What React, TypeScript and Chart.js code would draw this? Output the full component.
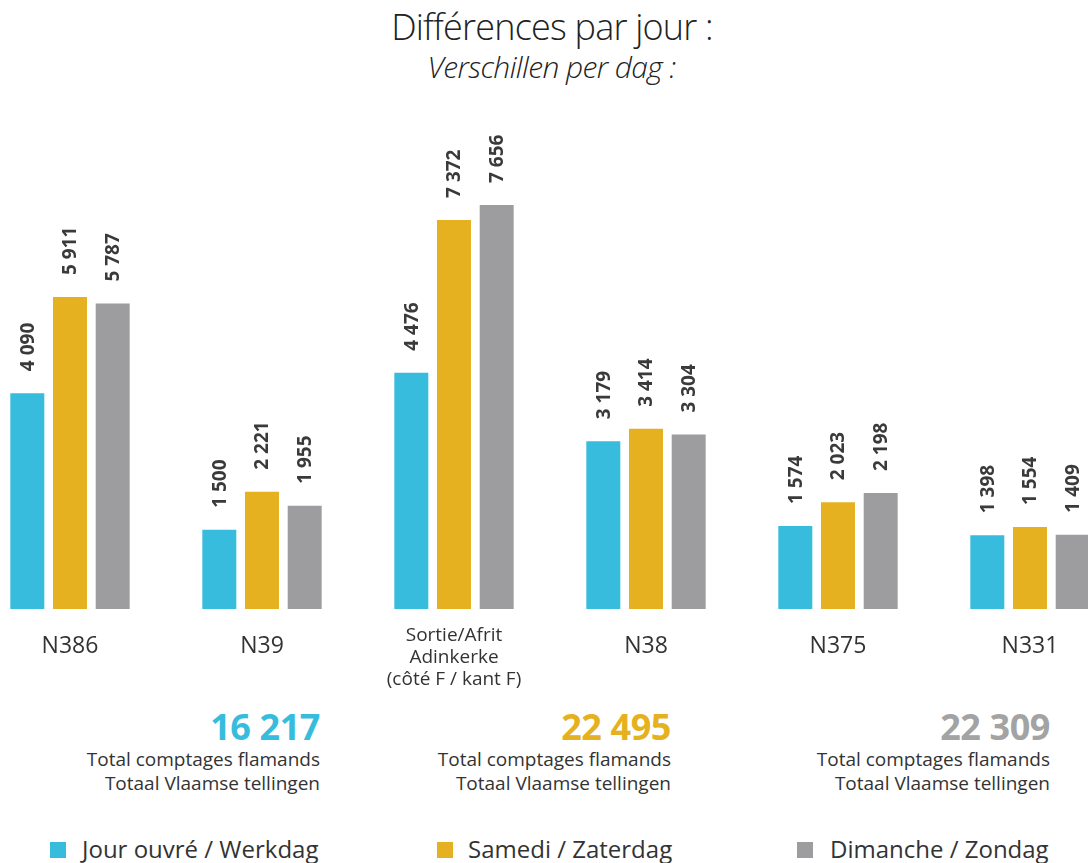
import React, { useEffect, useRef } from "react";
import Chart from "chart.js/auto";

const categories: string[][] = [
  ["N386"],
  ["N39"],
  ["Sortie/Afrit", "Adinkerke", "(côté F / kant F)"],
  ["N38"],
  ["N375"],
  ["N331"],
];
const werkdag = [4090, 1500, 4476, 3179, 1574, 1398];
const zaterdag = [5911, 2221, 7372, 3414, 2023, 1554];
const zondag = [5787, 1955, 7656, 3304, 2198, 1409];
const seriesLabels = ["Jour ouvré / Werkdag", "Samedi / Zaterdag", "Dimanche / Zondag"];
const seriesColors = ["#38BCDD", "#E6B120", "#9D9D9F"];
const totals = ["16 217", "22 495", "22 309"];
const totalColors = ["#38BCDD", "#E6B120", "#A3A3A3"];
const totalLines = ["Total comptages flamands", "Totaal Vlaamse tellingen"];
const titleText = "Différences par jour :";
const subtitleText = "Verschillen per dag :";

const FONT = "'Open Sans', 'DejaVu Sans', sans-serif";

function fmt(v: number): string {
  return String(v).replace(/\B(?=(\d{3})+(?!\d))/g, " ");
}

const labelPlugin = {
  id: "customLabels",
  afterDatasetsDraw(chart: any) {
    const ctx = chart.ctx;
    ctx.save();
    ctx.fillStyle = "#3A3A3A";
    ctx.font = `bold 19px ${FONT}`;
    ctx.textAlign = "left";
    ctx.textBaseline = "middle";
    chart.data.datasets.forEach((ds: any, di: number) => {
      const meta = chart.getDatasetMeta(di);
      meta.data.forEach((el: any, i: number) => {
        ctx.save();
        ctx.translate(el.x, el.y - 22);
        ctx.rotate(-Math.PI / 2);
        ctx.fillText(fmt(ds.data[i]), 0, 1);
        ctx.restore();
      });
    });
    // category labels
    const xs = chart.scales.x;
    const base = chart.chartArea.bottom;
    ctx.fillStyle = "#333333";
    ctx.textAlign = "center";
    categories.forEach((lines, i) => {
      const x = xs.getPixelForValue(i);
      if (lines.length === 1) {
        ctx.font = `23px ${FONT}`;
        ctx.fillText(lines[0], x, base + 37);
      } else {
        ctx.font = `19px ${FONT}`;
        lines.forEach((l, j) => ctx.fillText(l, x, base + 27 + j * 22));
      }
    });
    ctx.restore();
  },
};

export default function App() {
  const ref = useRef<HTMLCanvasElement>(null);
  useEffect(() => {
    if (!ref.current) return;
    const chart = new Chart(ref.current, {
      type: "bar",
      data: {
        labels: categories.map((c) => c.join(" ")),
        datasets: [werkdag, zaterdag, zondag].map((d, i) => ({
          label: seriesLabels[i],
          data: d,
          backgroundColor: seriesColors[i],
          borderWidth: 0,
          categoryPercentage: 0.667,
          barPercentage: 0.796,
        })),
      },
      options: {
        animation: false,
        responsive: false,
        maintainAspectRatio: false,
        layout: { padding: { top: 34, bottom: 91, left: 0, right: 0 } },
        plugins: { legend: { display: false }, tooltip: { enabled: false }, title: { display: false } },
        scales: {
          x: { display: false, offset: true, grid: { display: false } },
          y: { display: false, min: 0, max: 9000 },
        },
      },
      plugins: [labelPlugin],
    });
    return () => chart.destroy();
  }, []);

  const totalRights = [320, 671, 1050];
  const legendItems = [
    { sq: 50, tx: 82 },
    { sq: 437, tx: 468 },
    { sq: 797, tx: 830 },
  ];

  return (
    <div
      style={{
        position: "fixed",
        left: 0,
        top: 0,
        width: 1088,
        height: 863,
        overflow: "hidden",
        background: "#ffffff",
        fontFamily: FONT,
        color: "#333333",
      }}
    >
      <canvas
        ref={ref}
        width={1152}
        height={600}
        style={{ position: "absolute", left: -26, top: 100, width: 1152, height: 600 }}
      />
      <div
        style={{
          position: "absolute",
          left: 0,
          width: 1104,
          top: 5,
          textAlign: "center",
          fontSize: 36,
          lineHeight: "44px",
          fontWeight: 300,
          color: "#222222",
          letterSpacing: -0.8,
        }}
      >
        {titleText}
      </div>
      <div
        style={{
          position: "absolute",
          left: 0,
          width: 1103,
          top: 48,
          textAlign: "center",
          fontSize: 30,
          lineHeight: "38px",
          fontStyle: "italic",
          fontWeight: 300,
          color: "#222222",
          letterSpacing: -0.6,
        }}
      >
        {subtitleText}
      </div>
      {totals.map((t, i) => (
        <div
          key={t}
          style={{
            position: "absolute",
            right: 1088 - totalRights[i],
            top: 707,
            textAlign: "right",
            whiteSpace: "nowrap",
          }}
        >
          <div style={{ fontSize: 36, fontWeight: 700, lineHeight: "40px", color: totalColors[i], letterSpacing: -0.4 }}>
            {t}
          </div>
          {totalLines.map((l) => (
            <div key={l} style={{ fontSize: 19, lineHeight: "24px", color: "#333333" }}>
              {l}
            </div>
          ))}
        </div>
      ))}
      {seriesLabels.map((l, i) => (
        <React.Fragment key={l}>
          <div
            style={{
              position: "absolute",
              left: legendItems[i].sq,
              top: 842,
              width: 16,
              height: 16,
              background: seriesColors[i],
            }}
          />
          <div
            style={{
              position: "absolute",
              left: legendItems[i].tx,
              top: 833,
              fontSize: 24,
              lineHeight: "32px",
              whiteSpace: "nowrap",
              color: "#333333",
            }}
          >
            {l}
          </div>
        </React.Fragment>
      ))}
    </div>
  );
}
